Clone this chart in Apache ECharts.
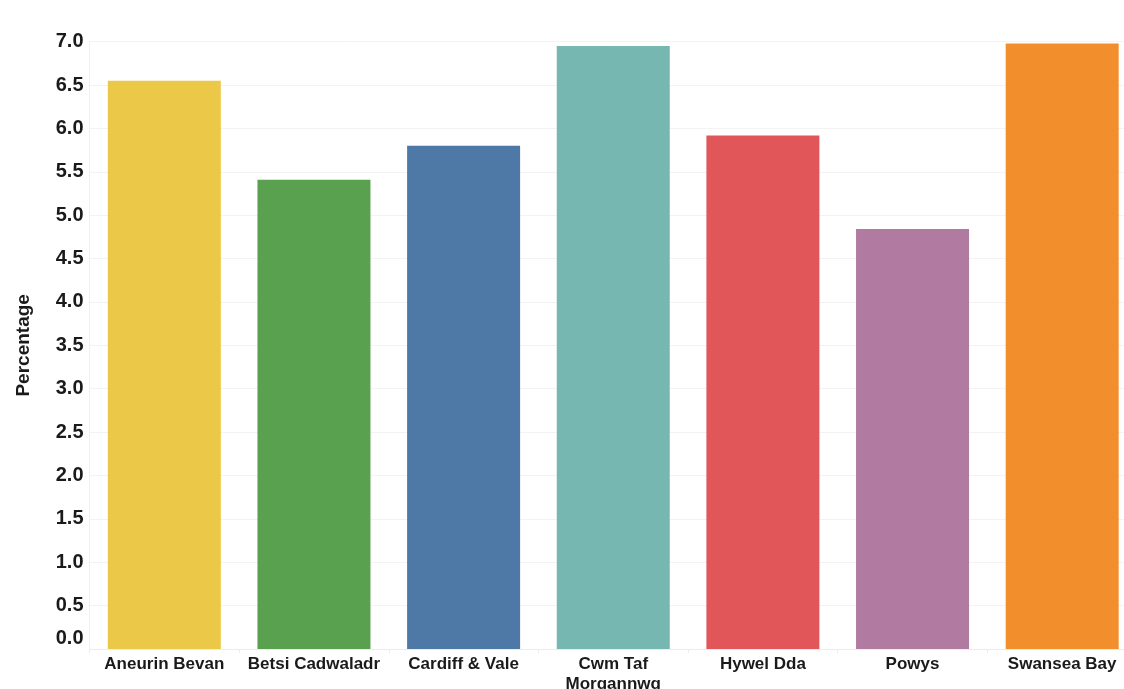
<!DOCTYPE html>
<html>
<head>
<meta charset="utf-8">
<script src="https://cdn.jsdelivr.net/npm/echarts@6/dist/echarts.min.js"></script>
<style>
html,body{margin:0;padding:0;background:#fff;}
#chart{width:1124px;height:689px;}
</style>
</head>
<body>
<div id="chart"></div>
<script>
const categories = ["Aneurin Bevan", "Betsi Cadwaladr", "Cardiff & Vale", "Cwm Taf\nMorgannwg", "Hywel Dda", "Powys", "Swansea Bay"];
const values = [6.55, 5.41, 5.80, 6.95, 5.92, 4.84, 6.98];
const colors = ["#EBC848", "#59A14F", "#4E79A7", "#76B7B2", "#E15759", "#B07AA1", "#F28E2B"];
const yTicks = [0, 7, 0.5];

const labelFont = {color: '#1a1a1a', fontFamily: 'Liberation Sans, Arial, sans-serif', fontWeight: 'bold', fontSize: 20};
const chart = echarts.init(document.getElementById('chart'), null, {renderer: 'canvas'});
chart.setOption({
  animation: false,
  backgroundColor: '#ffffff',
  grid: {left: 89.5, width: 1047.5, top: 41.7, height: 607.3, containLabel: false, outerBoundsMode: 'none'},
  xAxis: {
    type: 'category',
    data: categories,
    axisLine: {show: true, lineStyle: {color: '#ececec', width: 1}},
    axisTick: {show: true, length: 4, lineStyle: {color: '#ececec'}},
    axisLabel: {color: '#1a1a1a', fontFamily: 'Liberation Sans, Arial, sans-serif', fontWeight: 'bold', fontSize: 17, margin: 5, lineHeight: 20, interval: 0}
  },
  yAxis: {
    type: 'value',
    min: yTicks[0], max: yTicks[1], interval: yTicks[2],
    name: 'Percentage',
    nameLocation: 'middle',
    nameGap: 56,
    nameRotate: 90,
    nameTextStyle: {color: '#1a1a1a', fontFamily: 'Liberation Sans, Arial, sans-serif', fontWeight: 'bold', fontSize: 19},
    axisLine: {show: true, lineStyle: {color: '#f0f0f0'}},
    axisTick: {show: false},
    axisLabel: Object.assign({}, labelFont, {margin: 6,
      formatter: v => v === 0 ? '{z|' + v.toFixed(1) + '}' : v.toFixed(1),
      rich: {z: Object.assign({}, labelFont, {padding: [0, 0, 22, 0]})}}),
    splitLine: {show: true, lineStyle: {color: '#f3f3f3', width: 1}}
  },
  series: [{
    type: 'bar',
    data: values.map((v, i) => ({value: v, itemStyle: {color: colors[i]}})),
    barWidth: 113
  }]
});
</script>
</body>
</html>
